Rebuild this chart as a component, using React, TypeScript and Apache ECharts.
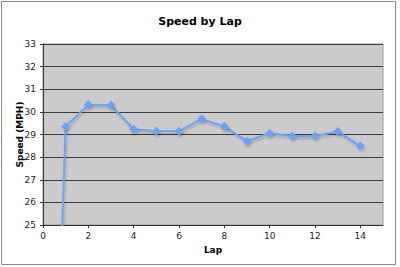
import React, { useEffect, useRef } from "react";
import * as echarts from "echarts";

const laps = [0, 1, 2, 3, 4, 5, 6, 7, 8, 9, 10, 11, 12, 13, 14];
const speeds = [0, 29.35, 30.32, 30.29, 29.23, 29.14, 29.14, 29.69, 29.35, 28.71, 29.06, 28.93, 28.93, 29.13, 28.49];
const xTicks = [0, 2, 4, 6, 8, 10, 12, 14];

export default function App() {
  const ref = useRef<HTMLDivElement>(null);
  useEffect(() => {
    if (!ref.current) return;
    const chart = echarts.init(ref.current, undefined, { renderer: "svg" });
    const font = "DejaVu Sans, Verdana, sans-serif";
    chart.setOption({
      animation: false,
      backgroundColor: "#ffffff",
      title: {
        text: "Speed by Lap",
        left: "center",
        top: 11,
        textStyle: { fontFamily: font, fontSize: 11, fontWeight: "bold", color: "#000" },
      },
      grid: {
        left: 43,
        right: 17,
        top: 44,
        bottom: 42,
        outerBoundsMode: "none",
        containLabel: false,
        show: true,
        backgroundColor: "#cbcbcb",
        borderColor: "#9a9a9a",
        borderWidth: 1,
      },
      xAxis: {
        type: "value",
        min: 0,
        max: 15,
        interval: 2,
        name: "Lap",
        nameLocation: "middle",
        nameGap: 20,
        nameMoveOverlap: false,
        nameTextStyle: { fontFamily: font, fontSize: 9, fontWeight: "bold", color: "#000" },
        axisLine: { show: true, lineStyle: { color: "#333", width: 1 } },
        axisTick: { show: true, length: 3, customValues: xTicks, lineStyle: { color: "#333" } },
        axisLabel: { customValues: xTicks, fontFamily: font, fontSize: 9, color: "#222", margin: 6 },
        splitLine: { show: false },
      },
      yAxis: {
        type: "value",
        min: 25,
        max: 33,
        interval: 1,
        name: "Speed (MPH)",
        nameLocation: "middle",
        nameGap: 19,
        nameMoveOverlap: false,
        nameTextStyle: { fontFamily: font, fontSize: 9, fontWeight: "bold", color: "#000" },
        axisLine: { show: true, lineStyle: { color: "#333", width: 1 } },
        axisTick: { show: true, length: 3, lineStyle: { color: "#333" } },
        axisLabel: { fontFamily: font, fontSize: 9, color: "#222", margin: 7 },
        splitLine: { show: true, lineStyle: { color: "#3c3c3c", width: 1 } },
      },
      series: [
        {
          type: "line",
          data: laps.map((l, i) => [l, speeds[i]]),
          clip: true,
          symbol: "diamond",
          symbolSize: 9,
          showAllSymbol: true,
          lineStyle: {
            color: "#68a4f8",
            width: 2,
            shadowColor: "rgba(0,0,0,0.2)",
            shadowOffsetX: 1,
            shadowOffsetY: 2,
            shadowBlur: 2,
          },
          itemStyle: {
            color: "#68a4f8",
            shadowColor: "rgba(0,0,0,0.2)",
            shadowOffsetX: 1,
            shadowOffsetY: 2,
            shadowBlur: 2,
          },
        },
      ],
      graphic: [
        {
          type: "rect",
          shape: { x: 1.5, y: 1.5, width: 394, height: 263 },
          style: { fill: "none", stroke: "#8a8a8a", lineWidth: 1 },
          silent: true,
        },
      ],
    });
    return () => chart.dispose();
  }, []);
  return (
    <div
      ref={ref}
      style={{ position: "fixed", left: 0, top: 0, width: 400, height: 267 }}
    />
  );
}
